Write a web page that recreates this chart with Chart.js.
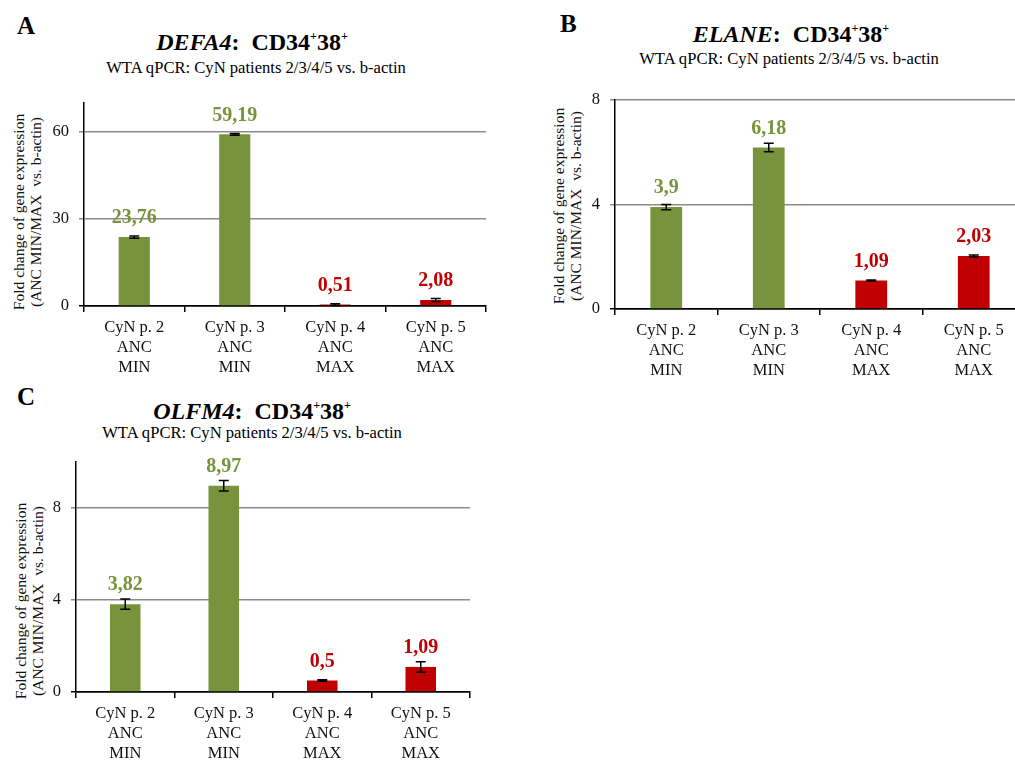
<!DOCTYPE html>
<html>
<head>
<meta charset="utf-8">
<script src="https://cdn.jsdelivr.net/npm/chart.js@4.4.1/dist/chart.umd.min.js"></script>
<style>
  html, body { margin: 0; padding: 0; background: #fff; width: 1015px; height: 760px; overflow: hidden; }
  body { position: relative; font-family: 'Liberation Serif', 'Times New Roman', serif; color: #000; }
  .letter { position: absolute; font-weight: bold; font-size: 25px; }
  .title { position: absolute; text-align: center; font-weight: bold; font-size: 24px; white-space: nowrap; transform: translateX(-50%); }
  .title sup { font-size: 12px; vertical-align: 10px; }
  .sub { position: absolute; text-align: center; font-size: 16.6px; white-space: nowrap; transform: translateX(-50%); }
  .ytitle { position: absolute; width: 0; height: 0; }
  .ytitle div { position: absolute; left: 0; top: 0; transform: translate(-50%, -50%) rotate(-90deg); white-space: pre; text-align: center; font-size: 15.5px; line-height: 17px; color: #111; }
  .box { position: absolute; z-index: 1; }
</style>
</head>
<body>
<div class="letter" style="left:17px; top:12px;">A</div>
<div class="title" style="left:252px; top:29px;"><i>DEFA4</i>:&nbsp; CD34<sup>+</sup>38<sup>+</sup></div>
<div class="sub" style="left:256px; top:58px;">WTA qPCR: CyN patients 2/3/4/5 vs. b-actin</div>
<div class="ytitle" style="left:27px; top:212px;"><div id="ytA"></div></div>
<div class="box" style="left:0px; top:90px; width:500px; height:290px;"><canvas id="chartA"></canvas></div>

<div class="letter" style="left:560px; top:10px;">B</div>
<div class="title" style="left:791px; top:21px;"><i>ELANE</i>:&nbsp; CD34<sup>+</sup>38<sup>+</sup></div>
<div class="sub" style="left:789px; top:49px;">WTA qPCR: CyN patients 2/3/4/5 vs. b-actin</div>
<div class="ytitle" style="left:567px; top:206px;"><div id="ytB"></div></div>
<div class="box" style="left:530px; top:85px; width:500px; height:295px;"><canvas id="chartB"></canvas></div>

<div class="letter" style="left:17px; top:383px;">C</div>
<div class="title" style="left:252px; top:398px;"><i>OLFM4</i>:&nbsp; CD34<sup>+</sup>38<sup>+</sup></div>
<div class="sub" style="left:252px; top:423px;">WTA qPCR: CyN patients 2/3/4/5 vs. b-actin</div>
<div class="ytitle" style="left:29px; top:601px;"><div id="ytC"></div></div>
<div class="box" style="left:0px; top:450px; width:490px; height:310px;"><canvas id="chartC"></canvas></div>

<script>
const categories = [
  ['CyN p. 2', 'ANC', 'MIN'],
  ['CyN p. 3', 'ANC', 'MIN'],
  ['CyN p. 4', 'ANC', 'MAX'],
  ['CyN p. 5', 'ANC', 'MAX']
]

const defa4Values = [23.76, 59.19, 0.51, 2.08]
const defa4Errors = [0.4, 0.3, 0.3, 0.5]
const defa4Labels = ['23,76', '59,19', '0,51', '2,08']

const elaneValues = [3.9, 6.18, 1.09, 2.03]
const elaneErrors = [0.1, 0.16, 0.02, 0.04]
const elaneLabels = ['3,9', '6,18', '1,09', '2,03']

const olfm4Values = [3.82, 8.97, 0.5, 1.09]
const olfm4Errors = [0.22, 0.23, 0.03, 0.23]
const olfm4Labels = ['3,82', '8,97', '0,5', '1,09']

const barColors = ['#77933c', '#77933c', '#c00000', '#c00000']
const yTitle = ['Fold change of gene expression', '(ANC MIN/MAX  vs. b-actin)']

const serif = "'Liberation Serif', 'Times New Roman', serif"

;['ytA', 'ytB', 'ytC'].forEach(id => { document.getElementById(id).textContent = yTitle.join('\n') })

// error bars drawn from the y scale
const errorBars = {
  id: 'errorBars',
  afterDatasetsDraw (chart, args, opts) {
    const { ctx } = chart
    const y = chart.scales.y
    const meta = chart.getDatasetMeta(0)
    ctx.save()
    ctx.strokeStyle = '#000'
    ctx.lineWidth = 1.5
    meta.data.forEach((bar, i) => {
      const v = chart.data.datasets[0].data[i]
      const e = opts.errors[i]
      const top = y.getPixelForValue(v + e)
      const bot = y.getPixelForValue(Math.max(0, v - e))
      ctx.beginPath()
      ctx.moveTo(bar.x, top); ctx.lineTo(bar.x, bot)
      ctx.moveTo(bar.x - 5, top); ctx.lineTo(bar.x + 5, top)
      ctx.moveTo(bar.x - 5, bot); ctx.lineTo(bar.x + 5, bot)
      ctx.stroke()
    })
    ctx.restore()
  }
}

// value labels above the bars
const valueLabels = {
  id: 'valueLabels',
  afterDatasetsDraw (chart, args, opts) {
    const { ctx } = chart
    const meta = chart.getDatasetMeta(0)
    ctx.save()
    ctx.font = `bold 20px ${serif}`
    ctx.textAlign = 'center'
    ctx.textBaseline = 'middle'
    meta.data.forEach((bar, i) => {
      ctx.fillStyle = barColors[i]
      ctx.fillText(opts.labels[i], bar.x, bar.y - 19)
    })
    ctx.restore()
  }
}

function makeChart (id, values, errors, labels, max, step, pad, yWidth, xHeight) {
  return new Chart(document.getElementById(id), {
    type: 'bar',
    data: {
      labels: categories,
      datasets: [{
        data: values,
        backgroundColor: barColors,
        categoryPercentage: 1,
        barPercentage: 0.31
      }]
    },
    options: {
      responsive: true,
      maintainAspectRatio: false,
      animation: false,
      layout: { padding: pad },
      plugins: {
        legend: { display: false },
        tooltip: { enabled: false },
        errorBars: { errors },
        valueLabels: { labels }
      },
      scales: {
        x: {
          grid: { drawOnChartArea: false, drawTicks: true, tickLength: 6, color: '#000', lineWidth: 1.5 },
          border: { color: '#000', width: 1.5 },
          ticks: { color: '#111', font: { family: serif, size: 16.5, lineHeight: 1.2 }, padding: 6, maxRotation: 0, autoSkip: false },
          afterFit: scale => {
            scale.height = xHeight
            scale.paddingLeft = 0
            scale.paddingRight = 0
          }
        },
        y: {
          min: 0,
          max,
          ticks: { stepSize: step, color: '#111', font: { family: serif, size: 16.5 }, padding: 10 },
          afterBuildTicks: scale => { scale.ticks = scale.ticks.filter(t => t.value % step === 0) },
          grid: {
            color: ctx => (ctx.tick && ctx.tick.value === 0) ? '#000' : '#8c8c8c',
            lineWidth: 1.5,
            tickLength: 5
          },
          border: { color: '#000', width: 1.5 },
          afterFit: scale => {
            scale.width = yWidth
            scale.paddingTop = 0
            scale.paddingBottom = 0
          }
        }
      }
    },
    plugins: [errorBars, valueLabels]
  })
}

makeChart('chartA', defa4Values, defa4Errors, defa4Labels, 70, 30, { top: 13, right: 14, left: 0, bottom: 0 }, 84, 74)
makeChart('chartB', elaneValues, elaneErrors, elaneLabels, 8, 4, { top: 15, right: 5, left: 0, bottom: 0 }, 85, 71)
makeChart('chartC', olfm4Values, olfm4Errors, olfm4Labels, 10, 4, { top: 12, right: 20, left: 0, bottom: 0 }, 76, 68)
</script>
</body>
</html>
